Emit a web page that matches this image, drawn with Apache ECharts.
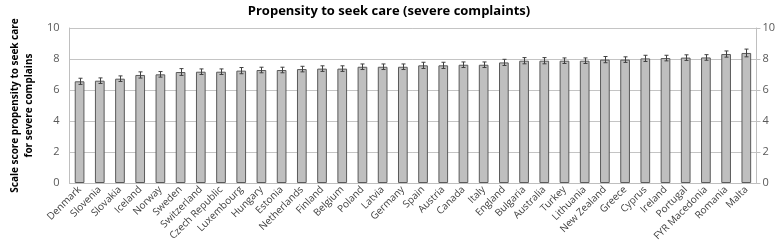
<!DOCTYPE html>
<html><head><meta charset="utf-8">
<script src="https://cdn.jsdelivr.net/npm/echarts@6/dist/echarts.min.js"></script>
<style>html,body{margin:0;padding:0;background:#fff}#c{width:778px;height:246px}</style>
</head><body><div id="c"></div>
<script>
const countries = ["Denmark","Slovenia","Slovakia","Iceland","Norway","Sweden","Switzerland","Czech Republic","Luxembourg","Hungary","Estonia","Netherlands","Finland","Belgium","Poland","Latvia","Germany","Spain","Austria","Canada","Italy","England","Bulgaria","Australia","Turkey","Lithuania","New Zealand","Greece","Cyprus","Ireland","Portugal","FYR Macedonia","Romania","Malta"];
const scores = [6.56,6.6,6.73,6.97,7.01,7.16,7.18,7.18,7.25,7.29,7.29,7.35,7.38,7.38,7.5,7.5,7.5,7.59,7.59,7.63,7.63,7.78,7.89,7.89,7.89,7.89,7.96,7.96,8.04,8.06,8.09,8.1,8.32,8.39];
const errors = [0.2,0.18,0.18,0.2,0.18,0.22,0.18,0.18,0.2,0.18,0.18,0.18,0.18,0.18,0.18,0.18,0.18,0.2,0.2,0.18,0.18,0.2,0.2,0.2,0.18,0.18,0.2,0.18,0.2,0.18,0.18,0.18,0.2,0.25];
const yTicks = [0,2,4,6,8,10];

const chart = echarts.init(document.getElementById('c'));
const font = "'Open Sans', sans-serif";
chart.setOption({
  animation:false,
  title:{text:'Propensity to seek care (severe complaints)',left:'center',top:0,
    textStyle:{fontFamily:font,fontSize:13,fontWeight:'bold',color:'#000'}},
  grid:{left:48,right:21,top:28,bottom:63},
  xAxis:{type:'category',data:countries,
    axisLine:{lineStyle:{color:'#bfbfbf'}},axisTick:{show:false},
    axisLabel:{interval:0,rotate:45,fontFamily:font,fontSize:10,color:'#404040',margin:5}},
  yAxis:[
    {type:'value',min:yTicks[0],max:yTicks[yTicks.length-1],interval:2,position:'left',
     name:'Scale score propensity to seek care\nfor severe complains',nameLocation:'middle',nameGap:26,
     nameTextStyle:{fontFamily:font,fontSize:10,fontWeight:'bold',color:'#000',lineHeight:14},
     axisLine:{show:true,lineStyle:{color:'#bfbfbf'}},axisTick:{show:false},
     axisLabel:{fontFamily:font,fontSize:11,color:'#595959',margin:10},
     splitLine:{lineStyle:{color:'#c4c4c4'}}},
    {type:'value',min:yTicks[0],max:yTicks[yTicks.length-1],interval:2,position:'right',
     axisLine:{show:true,lineStyle:{color:'#bfbfbf'}},axisTick:{show:true,length:4,lineStyle:{color:'#bfbfbf'}},
     axisLabel:{fontFamily:font,fontSize:11,color:'#595959',margin:6},
     splitLine:{show:false}}
  ],
  series:[
    {type:'bar',data:scores,barWidth:'48%',
     itemStyle:{color:'#bfbfbf',borderColor:'#5a5a5a',borderWidth:1}},
    {type:'custom',data:scores.map((v,i)=>[i,v,errors[i]]),z:5,
     renderItem:function(params,api){
       const i=api.value(0),v=api.value(1),e=api.value(2);
       const hi=api.coord([i,v+e]),lo=api.coord([i,v-e]);
       const cw=2;
       const x=Math.round(hi[0])+0.5;
       return {type:'group',children:[
         {type:'line',shape:{x1:x,y1:hi[1],x2:x,y2:lo[1]},style:{stroke:'#404040',lineWidth:1}},
         {type:'line',shape:{x1:x-cw,y1:hi[1],x2:x+cw,y2:hi[1]},style:{stroke:'#404040',lineWidth:1}},
         {type:'line',shape:{x1:x-cw,y1:lo[1],x2:x+cw,y2:lo[1]},style:{stroke:'#404040',lineWidth:1}}
       ]};
     }}
  ]
});
</script></body></html>
